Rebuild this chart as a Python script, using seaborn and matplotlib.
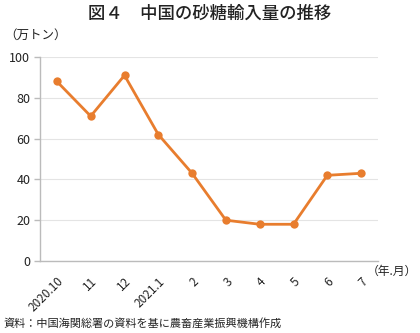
import matplotlib
matplotlib.use("Agg")
import matplotlib.pyplot as plt
import seaborn as sns
import pandas as pd

months = ["2020.10", "11", "12", "2021.1", "2", "3", "4", "5", "6", "7"]
imports = [88, 71, 91, 62, 43, 20, 18, 18, 42, 43]
yticks = [0, 20, 40, 60, 80, 100]

sns.set_theme(style="white")
plt.rcParams['font.family'] = ['Noto Sans CJK JP', 'DejaVu Sans']

df = pd.DataFrame({"month": months, "value": imports, "pos": range(len(months))})

fig = plt.figure(figsize=(4.2, 3.33), dpi=100)
ax = fig.add_axes([40/420, 1-261/333, 338/420, 204/333])

sns.lineplot(data=df, x="pos", y="value", ax=ax, color="#E87D2E", linewidth=2,
             marker="o", markersize=6, markeredgewidth=0)

ax.set_xlim(-0.5, len(months) - 0.5)
ax.set_ylim(0, 100)
ax.set_yticks(yticks)
ax.set_yticklabels([str(v) for v in yticks], fontsize=9, color="#222222")
ax.set_xticks(range(len(months)))
ax.set_xticklabels(months, rotation=45, ha="right", rotation_mode="anchor", fontsize=8.5, color="#222222")
ax.grid(axis="y", color="#e4e4e4", linewidth=0.8)
ax.set_axisbelow(True)
for s in ["top", "right"]:
    ax.spines[s].set_visible(False)
for s in ["left", "bottom"]:
    ax.spines[s].set_color("#bbbbbb")
    ax.spines[s].set_linewidth(1)
ax.tick_params(axis="y", left=True, length=4, color="#bbbbbb", width=1, pad=3)
ax.tick_params(axis="x", bottom=False, pad=4)
ax.set_xlabel("")
ax.set_ylabel("")

fig.text(0.5, 1-14/333, "図４　中国の砂糖輸入量の推移", ha="center", va="center", fontsize=12.5,
         fontweight="medium", color="#222222")
fig.text(4/420, 1-35/333, "（万トン）", ha="left", va="center", fontsize=9, color="#222222")
fig.text(417/420, 1-271/333, "（年.月）", ha="right", va="center", fontsize=8.5, color="#222222")
fig.text(4/420, 1-323/333, "資料：中国海関総署の資料を基に農畜産業振興機構作成", ha="left", va="center", fontsize=8, color="#222222")

fig.savefig("out.png", dpi=100, facecolor="white")
